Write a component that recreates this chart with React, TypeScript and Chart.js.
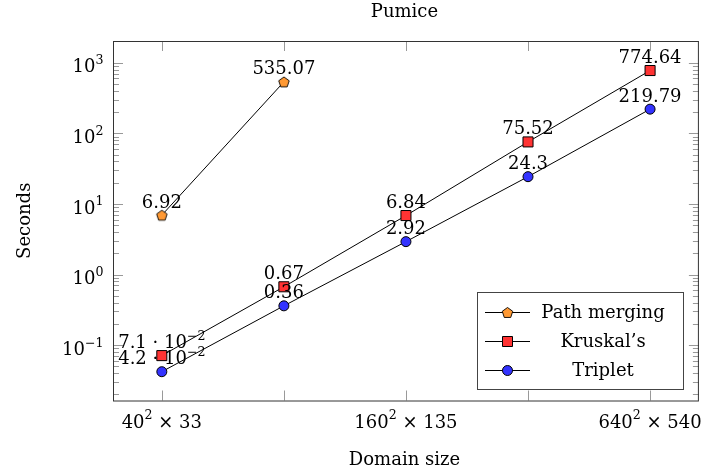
import React, { useEffect, useRef } from 'react';
import { Chart, registerables } from 'chart.js';

Chart.register(...registerables);

const FONT = '"DejaVu Serif", serif';
const FS = 18;

const chartTitle = 'Pumice';
const xTitle = 'Domain size';
const yTitle = 'Seconds';

const xPositions = [0, 1, 2, 3, 4];
const xTickLabels = ['40^{2} × 33', '', '160^{2} × 135', '', '640^{2} × 540'];

const yTickValues = [0.1, 1, 10, 100, 1000];
const yTickLabels = ['10^{−1}', '10^{0}', '10^{1}', '10^{2}', '10^{3}'];

const seriesNames = ['Path merging', 'Kruskal’s', 'Triplet'];
const pathMerging = [6.92, 535.07, null, null, null];
const kruskal = [0.071, 0.67, 6.84, 75.52, 774.64];
const triplet = [0.042, 0.36, 2.92, 24.3, 219.79];

const seriesColors = ['#FF9933', '#FF3333', '#3333FF'];
const seriesMarkers = ['pentagon', 'rect', 'circle'];

function pentPath(g: CanvasRenderingContext2D, cx: number, cy: number, r: number) {
  g.beginPath();
  for (let i = 0; i < 5; i++) {
    const a = -Math.PI / 2 + (i * 2 * Math.PI) / 5;
    const px = cx + r * Math.cos(a);
    const py = cy + r * Math.sin(a);
    if (i === 0) g.moveTo(px, py);
    else g.lineTo(px, py);
  }
  g.closePath();
}

function makePentagon(r: number, fill: string) {
  const c = document.createElement('canvas');
  const s = Math.ceil(2 * r + 3);
  c.width = s;
  c.height = s;
  const g = c.getContext('2d')!;
  pentPath(g, s / 2, s / 2 + 0.5, r);
  g.fillStyle = fill;
  g.fill();
  g.strokeStyle = '#000';
  g.lineWidth = 0.9;
  g.stroke();
  return c;
}

function parseRich(t: string) {
  const parts = t.split(/\^\{([^}]*)\}/);
  return parts.map((s, i) => ({ s, sup: i % 2 === 1 })).filter((p) => p.s.length > 0);
}

function drawRich(ctx: CanvasRenderingContext2D, t: string, x: number, y: number, align: string, size: number) {
  const segs = parseRich(t);
  let w = 0;
  for (const p of segs) {
    ctx.font = `${p.sup ? size * 0.7 : size}px ${FONT}`;
    w += ctx.measureText(p.s).width;
  }
  let cx = align === 'left' ? x : align === 'center' ? x - w / 2 : x - w;
  ctx.textAlign = 'left';
  ctx.textBaseline = 'alphabetic';
  for (const p of segs) {
    const fs = p.sup ? size * 0.7 : size;
    ctx.font = `${fs}px ${FONT}`;
    ctx.fillText(p.s, cx, p.sup ? y - size * 0.45 : y);
    cx += ctx.measureText(p.s).width;
  }
}

function fmtValue(v: number) {
  if (v < 0.1) {
    const e = Math.floor(Math.log10(v));
    const m = Math.round((v / Math.pow(10, e)) * 10) / 10;
    return `${m} · 10^{${e < 0 ? '−' + Math.abs(e) : e}}`;
  }
  return String(v);
}

function drawMarker(ctx: CanvasRenderingContext2D, kind: string, x: number, y: number, fill: string) {
  ctx.save();
  ctx.fillStyle = fill;
  ctx.strokeStyle = '#000';
  ctx.lineWidth = 1;
  if (kind === 'pentagon') {
    pentPath(ctx, x, y + 0.5, 5.5);
    ctx.lineWidth = 0.9;
  } else if (kind === 'rect') {
    ctx.beginPath();
    ctx.rect(x - 5, y - 5, 10, 10);
  } else {
    ctx.beginPath();
    ctx.arc(x, y, 5, 0, Math.PI * 2);
  }
  ctx.fill();
  ctx.stroke();
  ctx.restore();
}

const pgfPlugin = {
  id: 'pgfAxes',
  beforeDatasetsDraw(chart: any) {
    const ctx: CanvasRenderingContext2D = chart.ctx;
    const { left, right, top, bottom } = chart.chartArea;
    const xs = chart.scales.x;
    const ys = chart.scales.y;
    ctx.save();
    ctx.strokeStyle = '#999';
    ctx.lineWidth = 1;
    ctx.beginPath();
    for (const p of xPositions) {
      const px = Math.round(xs.getPixelForValue(p)) + 0.5;
      ctx.moveTo(px, bottom);
      ctx.lineTo(px, bottom - 10);
      ctx.moveTo(px, top);
      ctx.lineTo(px, top + 10);
    }
    for (let e = -3; e <= 4; e++) {
      for (let m = 1; m <= 9; m++) {
        const v = m * Math.pow(10, e);
        if (v < ys.min || v > ys.max) continue;
        const py = Math.round(ys.getPixelForValue(v)) + 0.5;
        const len = m === 1 ? 10 : 6;
        ctx.moveTo(left, py);
        ctx.lineTo(left + len, py);
        ctx.moveTo(right, py);
        ctx.lineTo(right - len, py);
      }
    }
    ctx.stroke();
    ctx.restore();
  },
  afterDatasetsDraw(chart: any) {
    const ctx: CanvasRenderingContext2D = chart.ctx;
    ctx.save();
    ctx.fillStyle = '#000';
    chart.data.datasets.forEach((ds: any, di: number) => {
      const meta = chart.getDatasetMeta(di);
      meta.data.forEach((el: any, i: number) => {
        const raw = ds.data[i];
        if (!raw || raw.y == null || el.skip) return;
        drawRich(ctx, fmtValue(raw.y), el.x, el.y - 7.5, 'center', FS);
      });
    });
    ctx.restore();
  },
  afterDraw(chart: any) {
    const ctx: CanvasRenderingContext2D = chart.ctx;
    const { left, right, top, bottom } = chart.chartArea;
    const xs = chart.scales.x;
    const ys = chart.scales.y;
    ctx.save();
    ctx.strokeStyle = '#333';
    ctx.lineWidth = 1;
    ctx.strokeRect(left + 0.5, top + 0.5, right - left - 1, bottom - top);
    ctx.fillStyle = '#000';
    yTickValues.forEach((v, i) => {
      const py = ys.getPixelForValue(v);
      drawRich(ctx, yTickLabels[i], left - 9.5, py + 9.6, 'right', FS);
    });
    xPositions.forEach((p, i) => {
      if (!xTickLabels[i]) return;
      drawRich(ctx, xTickLabels[i], xs.getPixelForValue(p), bottom + 27, 'center', FS);
    });
    const cx = (left + right) / 2 - 1.5;
    ctx.font = `${FS}px ${FONT}`;
    ctx.textAlign = 'center';
    ctx.textBaseline = 'alphabetic';
    ctx.fillText(chartTitle, cx, 17);
    ctx.fillText(xTitle, cx, 465);
    ctx.save();
    ctx.translate(30, (top + bottom) / 2);
    ctx.rotate(-Math.PI / 2);
    ctx.fillText(yTitle, 0, 0);
    ctx.restore();
    const lx = 477, ly = 292, lw = 206, lh = 97;
    ctx.fillStyle = '#fff';
    ctx.fillRect(lx, ly, lw, lh);
    ctx.strokeStyle = '#444';
    ctx.strokeRect(lx + 0.5, ly + 0.5, lw, lh);
    const rows = [312.3, 341, 370];
    chart.data.datasets.forEach((ds: any, di: number) => {
      const ry = Math.round(rows[di]) + 0.5;
      ctx.strokeStyle = '#000';
      ctx.lineWidth = 1;
      ctx.beginPath();
      ctx.moveTo(485, ry);
      ctx.lineTo(530, ry);
      ctx.stroke();
      drawMarker(ctx, seriesMarkers[di], 507.5, ry, seriesColors[di]);
      ctx.fillStyle = '#000';
      ctx.font = `${FS}px ${FONT}`;
      ctx.textAlign = 'center';
      ctx.textBaseline = 'alphabetic';
      ctx.fillText(ds.label, 603, rows[di] + 6);
    });
    ctx.restore();
  },
};

function toPoints(vals: (number | null)[]) {
  return vals.map((v, i) => ({ x: xPositions[i], y: v }));
}

export default function App() {
  const ref = useRef<HTMLCanvasElement>(null);
  useEffect(() => {
    const pent = makePentagon(5.5, seriesColors[0]);
    const seriesData = [pathMerging, kruskal, triplet];
    const chart = new Chart(ref.current!, {
      type: 'line',
      data: {
        datasets: seriesData.map((vals, i) => ({
          label: seriesNames[i],
          data: toPoints(vals) as any,
          borderColor: '#000',
          borderWidth: 1,
          backgroundColor: seriesColors[i],
          pointBackgroundColor: seriesColors[i],
          pointBorderColor: '#000',
          pointBorderWidth: 1,
          pointStyle: (seriesMarkers[i] === 'pentagon' ? pent : seriesMarkers[i]) as any,
          pointRadius: seriesMarkers[i] === 'rect' ? 7.1 : 5,
          spanGaps: false,
          fill: false,
          tension: 0,
        })),
      },
      options: {
        responsive: false,
        devicePixelRatio: 1,
        animation: false,
        layout: { padding: { left: 113, right: 5, top: 41, bottom: 71.5 } },
        plugins: {
          legend: { display: false },
          tooltip: { enabled: false },
          title: { display: false },
        },
        scales: {
          x: { type: 'linear', min: -0.4, max: 4.4, display: false },
          y: {
            type: 'logarithmic',
            min: Math.pow(10, -1.7846),
            max: Math.pow(10, 3.3074),
            display: false,
          },
        },
      },
      plugins: [pgfPlugin],
    } as any);
    return () => chart.destroy();
  }, []);
  return (
    <div style={{ position: 'fixed', left: 0, top: 0, width: 707, height: 472, background: '#fff' }}>
      <canvas ref={ref} width={707} height={472} style={{ display: 'block', width: 707, height: 472 }} />
    </div>
  );
}
